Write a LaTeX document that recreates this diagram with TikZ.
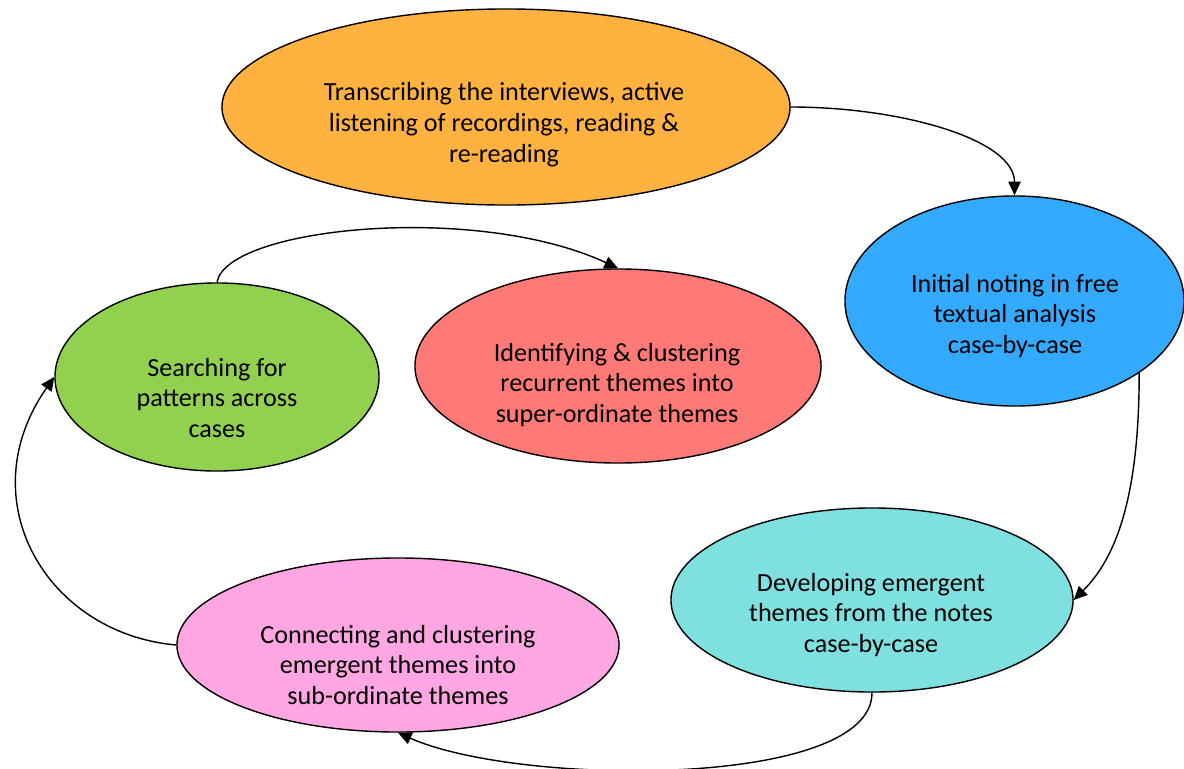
\documentclass[tikz,border=0pt]{standalone}
\usepackage{fontspec}
\setmainfont{Carlito}
\usetikzlibrary{shapes.geometric,arrows.meta}

\definecolor{orangefill}{HTML}{FFB23F}
\definecolor{bluefill}{HTML}{33AAFF}
\definecolor{cyanfill}{HTML}{7FE0E0}
\definecolor{pinkfill}{HTML}{FFA6E3}
\definecolor{greenfill}{HTML}{92D14F}
\definecolor{redfill}{HTML}{FF7A76}

\begin{document}
\begin{tikzpicture}[x=0.025cm,y=0.025cm,
        stage/.style={draw,ellipse,line width=1pt,inner sep=0pt},
        txt/.style={align=center,inner sep=0pt,font=\fontsize{18.6}{22}\selectfont},
        flow/.style={line width=1pt,-{Triangle[length=3.4mm,width=3.1mm]}}]

        \useasboundingbox (0,0) rectangle (1184,-769);

        % nodes
        \node [stage,fill=orangefill,minimum width=14.2cm,minimum height=4.9cm] (s1) at (506,-107) {};
        \node [stage,fill=bluefill,minimum width=8.475cm,minimum height=5.25cm] (s2) at (1014.5,-301) {};
        \node [stage,fill=cyanfill,minimum width=10.05cm,minimum height=4.6cm] (s3) at (872,-600) {};
        \node [stage,fill=pinkfill,minimum width=11.05cm,minimum height=4.35cm] (s4) at (398,-645) {};
        \node [stage,fill=greenfill,minimum width=8.1cm,minimum height=4.7cm] (s5) at (217,-377) {};
        \node [stage,fill=redfill,minimum width=10.15cm,minimum height=4.85cm] (s6) at (618,-366) {};

        \node [txt] (t1) at (504,-125) {Transcribing the interviews, active\\listening of recordings, reading \&\\re-reading};
        \node [txt] (t2) at (1015,-316) {Initial noting in free\\textual analysis\\case-by-case};
        \node [txt] (t3) at (871,-615) {Developing emergent\\themes from the notes\\case-by-case};
        \node [txt] (t4) at (398,-665) {Connecting and clustering\\emergent themes into\\sub-ordinate themes};
        \node [txt] (t5) at (217,-398) {Searching for\\patterns across\\cases};
        \node [txt] (t6) at (617,-385) {Identifying \& clustering\\recurrent themes into\\super-ordinate themes};

        % arrows
        \draw [flow] (s1.east) to[out=0,in=90,out distance=2.75cm,in distance=1.4cm] (s2.north);
        \draw [flow] (s2.-30) to[out=-90,in=45,out distance=3.1cm,in distance=1.5cm] (s3.east);
        \draw [flow] (s3.south) to[out=-90,in=-24,out distance=2.4cm,in distance=3.3cm] (s4.south);
        \draw [flow] (s4.west) to[out=175,in=-125,out distance=3.25cm,in distance=3.75cm] (s5.west);
        \draw [flow] (s5.north) to[out=80,in=155,out distance=1.4cm,in distance=3.9cm] (s6.north);
    \end{tikzpicture}
\end{document}
